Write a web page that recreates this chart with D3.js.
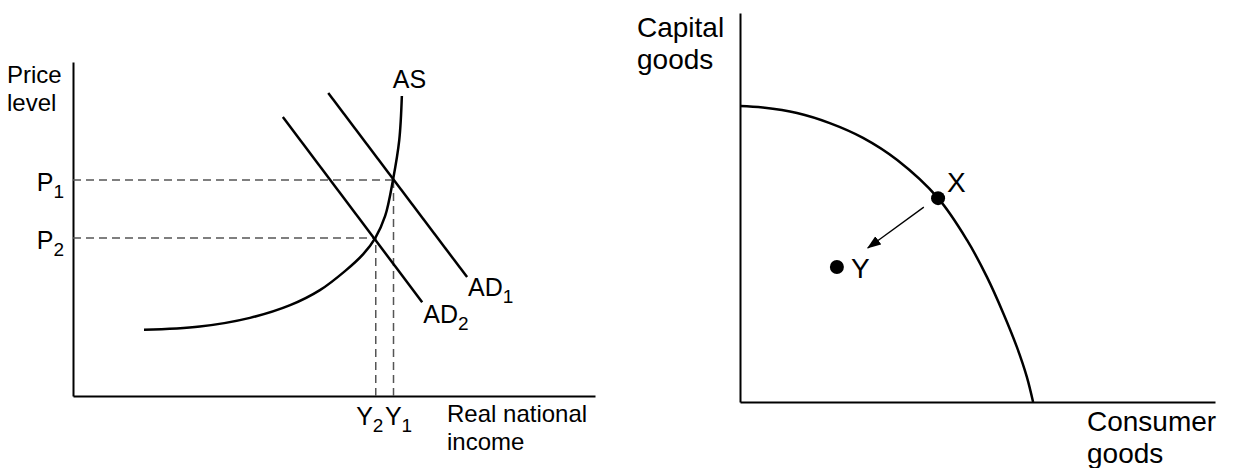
<!DOCTYPE html>
<html><head><meta charset="utf-8">
<script src="https://cdn.jsdelivr.net/npm/d3@7"></script>
<style>
body{margin:0;background:#fff}
text{font-family:"Liberation Sans",Arial,Helvetica,sans-serif;fill:#000}
</style>
</head><body>
<svg id="c" width="1247" height="468"></svg>
<script>
// ---------- Left diagram: AS / AD (abstract units 0-100) ----------
const asCurve = [[13.6,19.8],[24.3,20.8],[33.9,23.4],[41.6,27.2],[47.3,31.7],[52.1,37.4],[55.6,42.5],[57.9,47.3],[59.8,53.9],[61.3,64.7],[62.5,76.6],[63.0,89.8]];
const ad1Line = [[48.9,90.7],[75.5,35.6]];
const ad2Line = [[40.2,83.5],[66.9,28.1]];
const priceLevels = [64.7, 47.3];      // P1, P2
const incomeLevels = [61.4, 58.0];     // Y1, Y2
const subscripts = ["1", "2"];
const leftYTitle = ["Price", "level"];
const leftXTitle = ["Real national", "income"];

// ---------- Right diagram: PPF ----------
const ppfCurve = [[0,76.1],[4.8,75.7],[12.0,74.3],[18.9,71.7],[25.9,67.9],[33.1,62.2],[41.7,52.4],[47.8,41.6],[52.0,32.1],[55.4,22.9],[58.3,14.1],[60.4,6.4],[61.7,0]];
const pointNames = ["X", "Y"];
const pointValues = [[41.7,52.4],[20.4,34.7]];
const moveArrow = [[38.7,50.1],[26.9,39.6]];
const rightYTitle = ["Capital", "goods"];
const rightXTitle = ["Consumer", "goods"];

const svg = d3.select("#c");
const FL = 25, FT = 24, FS = 19, FR = 28;

// scales
const xL = d3.scaleLinear().domain([0,100]).range([73,595]);
const yL = d3.scaleLinear().domain([0,100]).range([396,62]);
const xR = d3.scaleLinear().domain([0,100]).range([740,1215]);
const yR = d3.scaleLinear().domain([0,100]).range([402,13]);

function axisLines(g, x, y){
  const ax = g.append("g").attr("transform",`translate(0,${y.range()[0]})`)
    .call(d3.axisBottom(x).tickValues([]).tickSizeOuter(0));
  const ay = g.append("g").attr("transform",`translate(${x.range()[0]},0)`)
    .call(d3.axisLeft(y).tickValues([]).tickSizeOuter(0));
  [ax,ay].forEach(a=>a.select(".domain").attr("stroke","#000").attr("stroke-width",2));
}

function subText(g, x, y, main, sub, size, subSize, anchor){
  const t = g.append("text").attr("x",x).attr("y",y).attr("font-size",size).attr("text-anchor",anchor||"start");
  t.append("tspan").text(main);
  t.append("tspan").attr("font-size",subSize).attr("dy",7).text(sub);
  return t;
}

function twoLine(g, x, y, lines, size, gap){
  const t = g.append("text").attr("x",x).attr("y",y).attr("font-size",size);
  lines.forEach((s,i)=> t.append("tspan").attr("x",x).attr("dy", i===0?0:gap).text(s));
  return t;
}

// ===== Left =====
const L = svg.append("g");
axisLines(L, xL, yL);

// dashed guides
priceLevels.forEach((p,i)=>{
  L.append("line").attr("x1",xL(0)).attr("x2",xL(incomeLevels[i])).attr("y1",yL(p)).attr("y2",yL(p))
    .attr("stroke","#555").attr("stroke-width",1.5).attr("stroke-dasharray","8,5");
  L.append("line").attr("x1",xL(incomeLevels[i])).attr("x2",xL(incomeLevels[i])).attr("y1",yL(0)).attr("y2",yL(p))
    .attr("stroke","#555").attr("stroke-width",1.5).attr("stroke-dasharray","8,5");
});

L.append("path").datum(asCurve)
  .attr("d", d3.line().x(d=>xL(d[0])).y(d=>yL(d[1])).curve(d3.curveCatmullRom.alpha(0.5)))
  .attr("fill","none").attr("stroke","#000").attr("stroke-width",2.5);
[ad1Line, ad2Line].forEach(d=>{
  L.append("path").datum(d).attr("d", d3.line().x(p=>xL(p[0])).y(p=>yL(p[1])))
    .attr("fill","none").attr("stroke","#000").attr("stroke-width",2.5);
});

// labels
twoLine(L, 7, 83, leftYTitle, FT, 28);
priceLevels.forEach((p,i)=> subText(L, 64, yL(p)+11, "P", subscripts[i], FL, FS, "end"));
incomeLevels.forEach((v,i)=> subText(L, xL(v)+(i===0?5:-6), 425, "Y", subscripts[i], FL, FS, "middle"));
twoLine(L, 447, 422, leftXTitle, FT, 28);
L.append("text").attr("x",xL(asCurve[asCurve.length-1][0])-9).attr("y",88).attr("font-size",FL).text("AS");
subText(L, xL(ad1Line[1][0])+1, yL(ad1Line[1][1])+19, "AD", "1", FL, FS);
subText(L, xL(ad2Line[1][0])+1, yL(ad2Line[1][1])+21, "AD", "2", FL, FS);

// ===== Right =====
const R = svg.append("g");
axisLines(R, xR, yR);
R.append("path").datum(ppfCurve)
  .attr("d", d3.line().x(d=>xR(d[0])).y(d=>yR(d[1])).curve(d3.curveCatmullRom.alpha(0.5)))
  .attr("fill","none").attr("stroke","#000").attr("stroke-width",2.5);

svg.append("defs").append("marker").attr("id","ah").attr("markerUnits","userSpaceOnUse")
  .attr("viewBox","0 0 14 12").attr("refX",13).attr("refY",6).attr("markerWidth",14).attr("markerHeight",12)
  .attr("orient","auto").append("path").attr("d","M0,1L14,6L0,11Z").attr("fill","#000");
R.append("line").attr("x1",xR(moveArrow[0][0])).attr("y1",yR(moveArrow[0][1]))
  .attr("x2",xR(moveArrow[1][0])).attr("y2",yR(moveArrow[1][1]))
  .attr("stroke","#000").attr("stroke-width",1.3).attr("marker-end","url(#ah)");

R.selectAll("circle.pt").data(pointValues).enter().append("circle").attr("class","pt")
  .attr("cx",d=>xR(d[0])).attr("cy",d=>yR(d[1])).attr("r",7).attr("fill","#000");
R.append("text").attr("x",xR(pointValues[0][0])+9).attr("y",yR(pointValues[0][1])-6).attr("font-size",FR).text(pointNames[0]);
R.append("text").attr("x",xR(pointValues[1][0])+14).attr("y",yR(pointValues[1][1])+11).attr("font-size",FR).text(pointNames[1]);

twoLine(R, 637, 37, rightYTitle, FR, 32);
twoLine(R, 1087, 431, rightXTitle, FR, 32);
</script>
</body></html>
